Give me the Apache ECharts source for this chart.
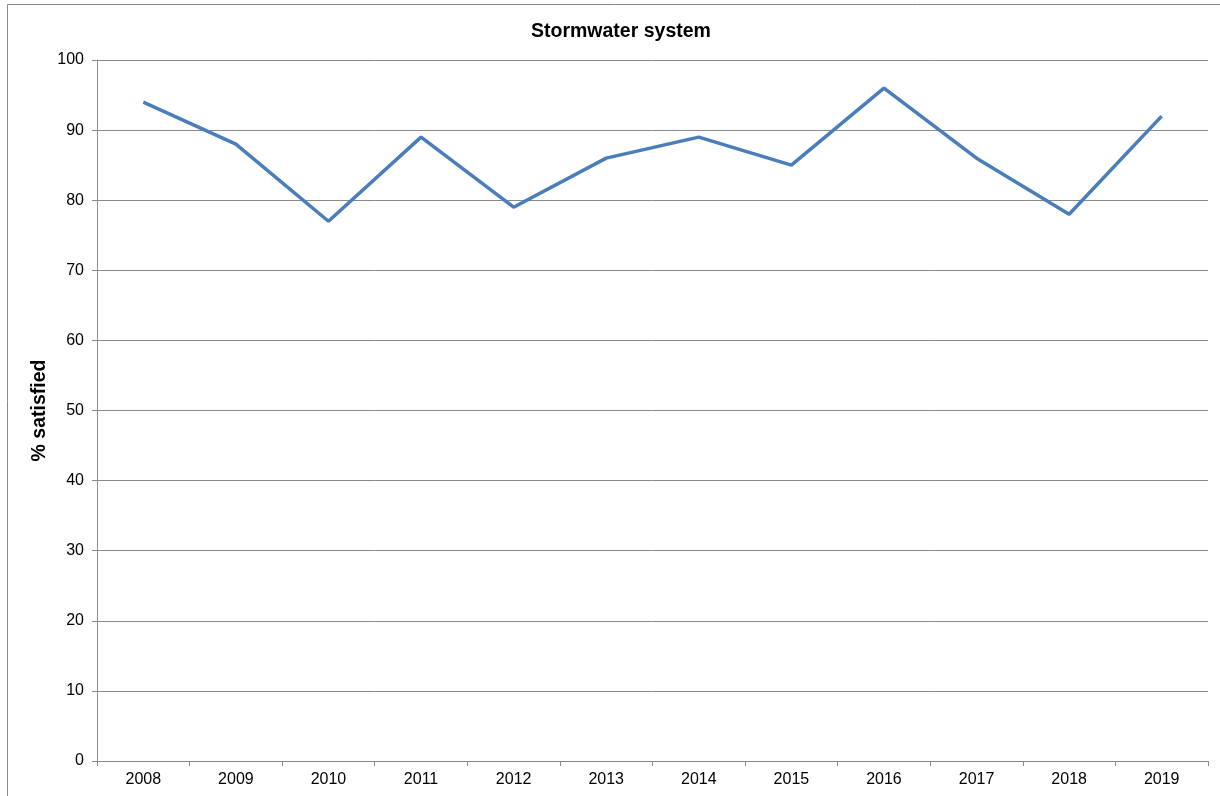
<!DOCTYPE html>
<html>
<head>
<meta charset="utf-8">
<script src="https://cdn.jsdelivr.net/npm/echarts@6/dist/echarts.min.js"></script>
<style>
html,body{margin:0;padding:0;background:#fff;}
#chart{width:1220px;height:796px;}
</style>
</head>
<body>
<div id="chart"></div>
<script>
// Survey years and share of residents satisfied with the stormwater system
var years = ['2008','2009','2010','2011','2012','2013','2014','2015','2016','2017','2018','2019'];
var satisfied = [94, 88, 77, 89, 79, 86, 89, 85, 96, 86, 78, 92];

var chart = echarts.init(document.getElementById('chart'));
chart.setOption({
  animation: false,
  backgroundColor: '#ffffff',
  title: {
    text: 'Stormwater system',
    left: 526,
    top: 17,
    textStyle: { fontFamily: 'Liberation Sans, Arial', fontSize: 19.5, fontWeight: 'bold', color: '#000' }
  },
  graphic: [{
    type: 'rect',
    shape: { x: 7.5, y: 4.5, width: 1240, height: 820 },
    style: { fill: 'none', stroke: '#8a8a8a', lineWidth: 1 },
    silent: true,
    z: -1
  }],
  grid: { left: 97, right: 12, top: 60, bottom: 35 },
  xAxis: {
    type: 'category',
    data: years,
    boundaryGap: true,
    axisLine: { lineStyle: { color: '#8a8a8a', width: 1 } },
    axisTick: { show: true, length: 5, alignWithLabel: false, lineStyle: { color: '#8a8a8a' } },
    axisLabel: { color: '#000', fontFamily: 'Liberation Sans, Arial', fontSize: 16, margin: 11 }
  },
  yAxis: {
    type: 'value',
    min: 0,
    max: 100,
    interval: 10,
    name: '% satisfied',
    nameLocation: 'middle',
    nameGap: 47,
    nameRotate: 90,
    nameMoveOverlap: false,
    nameTextStyle: { color: '#000', fontFamily: 'Liberation Sans, Arial', fontSize: 19.5, fontWeight: 'bold' },
    axisLine: { show: true, lineStyle: { color: '#8a8a8a', width: 1 } },
    axisTick: { show: true, length: 5, inside: false, lineStyle: { color: '#8a8a8a' } },
    axisLabel: { color: '#000', fontFamily: 'Liberation Sans, Arial', fontSize: 16, margin: 13 },
    splitLine: { show: true, lineStyle: { color: '#8a8a8a', width: 1 } }
  },
  series: [{
    type: 'line',
    data: satisfied,
    symbol: 'none',
    lineStyle: { color: '#4a7ebb', width: 3.5 },
    itemStyle: { color: '#4a7ebb' }
  }]
});
</script>
</body>
</html>
